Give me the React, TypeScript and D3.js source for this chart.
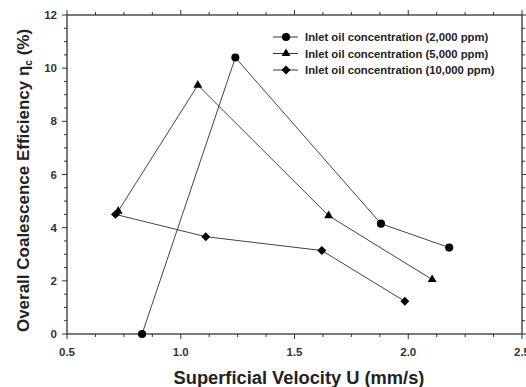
import { useMemo } from "react";
import * as d3 from "d3";

type Pt = { u: number; eta: number };

const series2000: Pt[] = [
  { u: 0.83, eta: 0 },
  { u: 1.24, eta: 10.4 },
  { u: 1.88, eta: 4.15 },
  { u: 2.18, eta: 3.25 },
];
const series5000: Pt[] = [
  { u: 0.725, eta: 4.62 },
  { u: 1.075, eta: 9.36 },
  { u: 1.65, eta: 4.45 },
  { u: 2.105, eta: 2.05 },
];
const series10000: Pt[] = [
  { u: 0.713, eta: 4.5 },
  { u: 1.11, eta: 3.66 },
  { u: 1.62, eta: 3.14 },
  { u: 1.985, eta: 1.23 },
];
const legendLabels = [
  "Inlet oil concentration (2,000 ppm)",
  "Inlet oil concentration (5,000 ppm)",
  "Inlet oil concentration (10,000 ppm)",
];
const xTicks = [0.5, 1.0, 1.5, 2.0, 2.5];
const yTicks = [0, 2, 4, 6, 8, 10, 12];

const W = 526;
const H = 387;
const M = { left: 67, top: 15, right: 3, bottom: 53 };
const FONT = "'Liberation Sans', Arial, Helvetica, sans-serif";

const symbols = [d3.symbolCircle, d3.symbolTriangle, d3.symbolSquare];
const symbolSizes = [52, 34, 40];

export default function App() {
  const x = useMemo(() => d3.scaleLinear().domain([0.5, 2.5]).range([M.left, W - M.right - 1]), []);
  const y = useMemo(() => d3.scaleLinear().domain([0, 12]).range([H - M.bottom, M.top]), []);
  const line = d3.line<Pt>().x((d) => x(d.u)).y((d) => y(d.eta));
  const all = [series2000, series5000, series10000];

  const x0 = x(0.5), x1 = x(2.5), y0 = y(0), y1 = y(12);
  const xMinor = d3.range(0.5, 2.5001, 0.125);
  const yMinor = d3.range(0, 12.001, 0.5);

  return (
    <svg width={W} height={H} style={{ position: "absolute", left: 0, top: 0 }} fontFamily={FONT}>
      <rect width={W} height={H} fill="#fff" />
      {/* frame */}
      <rect x={x0} y={y1} width={x1 - x0} height={y0 - y1} fill="none" stroke="#333" strokeWidth={1.3} />
      {/* ticks point outward on all four sides */}
      {xMinor.map((v, i) => {
        const len = i % 4 === 0 ? 5 : 3;
        return (
          <g key={"xt" + i} stroke="#333" strokeWidth={1}>
            <line x1={x(v)} x2={x(v)} y1={y0} y2={y0 + len} />
            <line x1={x(v)} x2={x(v)} y1={y1} y2={y1 - len} />
          </g>
        );
      })}
      {yMinor.map((v, i) => {
        const len = i % 4 === 0 ? 5 : 3;
        return (
          <g key={"yt" + i} stroke="#333" strokeWidth={1}>
            <line x1={x0} x2={x0 - len} y1={y(v)} y2={y(v)} />
            <line x1={x1} x2={x1 + len} y1={y(v)} y2={y(v)} />
          </g>
        );
      })}
      {xTicks.map((v) => (
        <text key={"xl" + v} x={x(v)} y={y0 + 22} textAnchor="middle" fontSize={11.5} fontWeight="bold" fill="#333">
          {v.toFixed(1)}
        </text>
      ))}
      {yTicks.map((v) => (
        <text key={"yl" + v} x={x0 - 10} y={y(v) + 4} textAnchor="end" fontSize={11.5} fontWeight="bold" fill="#333">
          {v}
        </text>
      ))}
      {/* axis titles */}
      <text x={299} y={383.5} textAnchor="middle" fontSize={18.3} fontWeight="bold" fill="#222">
        Superficial Velocity U (mm/s)
      </text>
      <text transform={`translate(29, ${(y0 + y1) / 2 + 6}) rotate(-90)`} textAnchor="middle" fontSize={17} fontWeight="bold" fill="#222">
        Overall Coalescence Efficiency η<tspan fontSize={10} dy={3}>c</tspan>
        <tspan dy={-3}> (%)</tspan>
      </text>
      {/* series */}
      {all.map((s, si) => (
        <g key={"s" + si}>
          <path d={line(s)!} fill="none" stroke="#444" strokeWidth={1} />
          {s.map((d, i) => (
            <path
              key={i}
              d={d3.symbol().type(symbols[si]).size(symbolSizes[si])()!}
              transform={`translate(${x(d.u)},${y(d.eta)})${si === 2 ? " rotate(45)" : ""}`}
              fill="#000"
            />
          ))}
        </g>
      ))}
      {/* legend */}
      {legendLabels.map((lab, i) => {
        const ly = 37 + i * 16.5;
        return (
          <g key={"lg" + i}>
            <line x1={273} x2={298} y1={ly} y2={ly} stroke="#333" strokeWidth={1} />
            <path
              d={d3.symbol().type(symbols[i]).size(symbolSizes[i])()!}
              transform={`translate(286,${ly})${i === 2 ? " rotate(45)" : ""}`}
              fill="#000"
            />
            <text x={305} y={ly + 4} fontSize={11.3} fontWeight="bold" fill="#222">
              {lab}
            </text>
          </g>
        );
      })}
    </svg>
  );
}
